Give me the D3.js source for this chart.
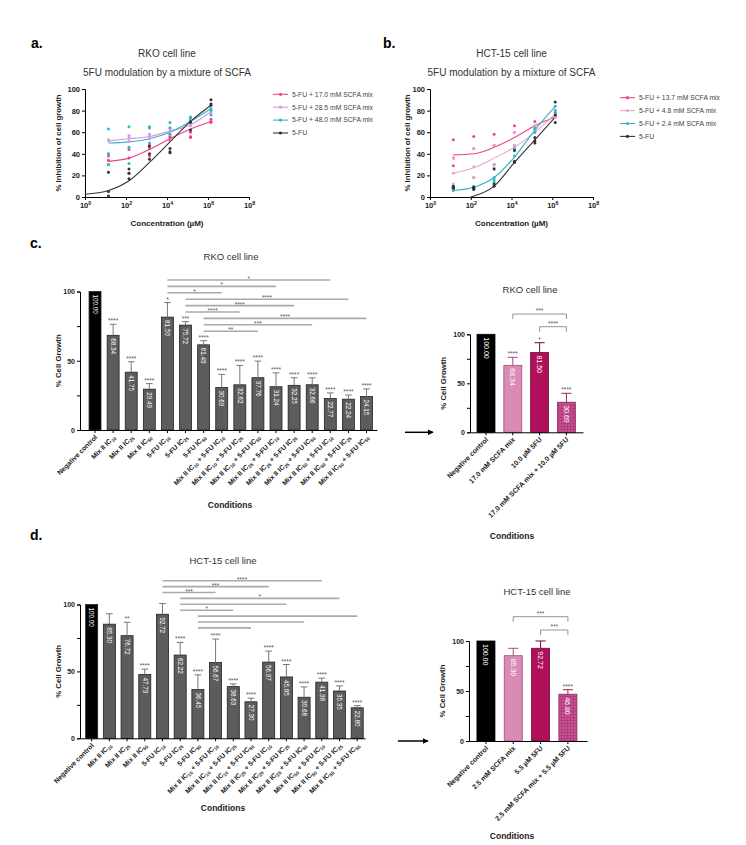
<!DOCTYPE html>
<html>
<head>
<meta charset="utf-8">
<script src="https://cdn.jsdelivr.net/npm/d3@7"></script>
<style>
  body { margin: 0; background: #fff; }
  text { font-family: "Liberation Sans", Arial, sans-serif; }
</style>
</head>
<body>
<svg id="fig" width="746" height="845"></svg>
<script>
// ---------- data: dose response (panels a, b) ----------
var concentrations = [14, 140, 1400, 14000, 140000, 1400000];
var xTicks = [1, 1e2, 1e4, 1e6, 1e8];
var xTickExp = ["0", "2", "4", "6", "8"];
var curveYTicks = [0, 20, 40, 60, 80, 100];

var rkoSeries = ["5-FU + 17.0 mM SCFA mix", "5-FU + 28.5 mM SCFA mix", "5-FU + 48.0 mM SCFA mix", "5-FU"];
var rkoColors = ["#e8458b", "#d39ae6", "#35b4c8", "#333333"];
// replicates per concentration, per series
var rkoPoints = [
  [[38, 34, 30], [44, 36, 22], [48, 45, 38], [56, 52, 55], [60, 56, 55], [72, 70, 69]],
  [[53, 52, 40], [57, 55, 52], [56, 54, 58], [64, 61, 58], [72, 70, 66], [86, 80, 78]],
  [[63, 40, 30], [65, 46, 31], [65, 64, 50], [69, 64, 58], [74, 73, 70], [82, 80, 76]],
  [[23, 5, 1], [26, 22, 17], [47, 40, 35], [45, 42, 41], [69, 62, 70], [90, 86, 85]]
];
var rkoFitConc = [concentrations, concentrations, concentrations, [1].concat(concentrations)];
var rkoFitValues = [
  [33, 36, 44, 54, 63, 70],
  [52, 54, 56, 61, 67, 79],
  [50, 51, 54, 60, 70, 82],
  [2.5, 6, 15, 32, 51, 70, 85]
];

var hctSeries = ["5-FU + 13.7 mM SCFA mix", "5-FU + 4.8 mM SCFA mix", "5-FU + 2.4 mM SCFA mix", "5-FU"];
var hctColors = ["#e8458b", "#eba3d3", "#35b4c8", "#333333"];
var hctPoints = [
  [[53, 36, 29], [56, 45, 18], [58, 48, 30], [66, 60, 48], [70, 66, 62], [78, 76, 74]],
  [[36, 22, 12], [45, 28, 18], [48, 30, 27], [60, 48, 44], [66, 62, 60], [80, 77, 74]],
  [[10, 8, 6], [10, 9, 8], [18, 16, 14], [45, 44, 38], [64, 63, 60], [84, 80, 78]],
  [[10, 9, 8], [9, 8, 7], [26, 12, 10], [43, 33, 32], [55, 52, 50], [88, 76, 69]]
];
var hctFitConc = [concentrations, concentrations, concentrations, [100, 1400, 14000, 140000, 1400000]];
var hctFitValues = [
  [39, 40, 46, 55, 66, 74],
  [22, 27, 36, 46, 60, 77],
  [6, 9, 18, 37, 62, 84],
  [0, 10, 32, 53, 74]
];

// ---------- data: cell growth bars (panels c, d) ----------
var conditions = ["Negative control", "Mix II IC_{10}", "Mix II IC_{25}", "Mix II IC_{50}",
  "5-FU IC_{10}", "5-FU IC_{25}", "5-FU IC_{50}",
  "Mix II IC_{10} + 5-FU IC_{10}", "Mix II IC_{10} + 5-FU IC_{25}", "Mix II IC_{10} + 5-FU IC_{50}",
  "Mix II IC_{25} + 5-FU IC_{10}", "Mix II IC_{25} + 5-FU IC_{25}", "Mix II IC_{25} + 5-FU IC_{50}",
  "Mix II IC_{50} + 5-FU IC_{10}", "Mix II IC_{50} + 5-FU IC_{25}", "Mix II IC_{50} + 5-FU IC_{50}"];
var barYTicks = [0, 25, 50, 75, 100];

var rkoGrowth = [100, 68.34, 41.75, 29.49, 81.50, 75.72, 61.49, 30.69, 32.62, 37.76, 31.24, 32.25, 32.66, 22.77, 22.24, 24.15];
var rkoSD = [0, 8, 7.5, 4, 10.5, 2.5, 3, 9.5, 14, 12, 10, 5.5, 5, 4, 3, 5.5];
var rkoStars = ["", "****", "****", "****", "*", "***", "****", "****", "****", "****", "****", "****", "****", "****", "****", "****"];
var rkoPairs = [[4, 13, "*"], [4, 10, "*"], [4, 7, "*"], [5, 14, "****"], [5, 11, "****"], [5, 8, "****"], [6, 15, "****"], [6, 12, "***"], [6, 9, "**"]];

var hctGrowth = [100, 85.30, 76.72, 47.73, 92.72, 62.22, 36.45, 56.67, 38.63, 27.30, 56.97, 45.85, 30.68, 41.98, 35.35, 22.80];
var hctSD = [0, 7.8, 10, 4, 8, 9.4, 11, 17.5, 2, 2.7, 8.2, 9.3, 7.7, 3, 3.8, 1.6];
var hctStars = ["", "", "**", "****", "", "****", "****", "****", "****", "****", "****", "****", "****", "****", "****", "****"];
var hctPairs = [[4, 13, "****"], [4, 10, "***"], [4, 7, "***"], [5, 14, "*"], [5, 11, ""], [5, 8, "*"], [6, 15, ""], [6, 12, ""], [6, 9, ""]];

var rkoSelConditions = ["Negative control", "17.0 mM SCFA mix", "10.0 µM 5FU", "17.0 mM SCFA mix + 10.0 µM 5FU"];
var rkoSelGrowth = [100, 68.34, 81.50, 30.69];
var rkoSelSD = [0, 8.2, 9.9, 9.1];
var rkoSelStars = ["", "****", "*", "****"];
var rkoSelPairs = [[1, 3, "***"], [2, 3, "****"]];

var hctSelConditions = ["Negative control", "2.5 mM SCFA mix", "5.5 µM 5FU", "2.5 mM SCFA mix + 5.5 µM 5FU"];
var hctSelGrowth = [100, 85.30, 92.72, 46.80];
var hctSelSD = [0, 7.4, 7.3, 4.5];
var hctSelStars = ["", "", "", "****"];
var hctSelPairs = [[1, 3, "***"], [2, 3, "***"]];

var selFills = ["#000000", "#d98ab5", "#b0105a", "url(#hatch)"];
var selStrokes = ["#000000", "#a34d7d", "#6e0a38", "#8e2a63"];

// ---------- drawing ----------
var svg = d3.select("#fig");
svg.append("rect").attr("width", 746).attr("height", 845).attr("fill", "#fff");

var defs = svg.append("defs");
var hatch = defs.append("pattern").attr("id", "hatch")
    .attr("patternUnits", "userSpaceOnUse").attr("width", 3).attr("height", 3);
hatch.append("rect").attr("width", 3).attr("height", 3).attr("fill", "#c84f92");
hatch.append("path").attr("d", "M0,0H3M0,0V3").attr("stroke", "#8e2a63").attr("stroke-width", 0.7);
defs.append("marker").attr("id", "arrowHead")
    .attr("viewBox", "0 0 10 10").attr("refX", 9).attr("refY", 5)
    .attr("markerWidth", 4).attr("markerHeight", 4).attr("orient", "auto")
    .append("path").attr("d", "M0,0L10,5L0,10z").attr("fill", "#000");

function styleAxis(g, size) {
  g.selectAll("path.domain").attr("stroke", "#000").attr("stroke-width", 1);
  g.selectAll(".tick line").attr("stroke", "#000");
  g.selectAll(".tick text").attr("font-size", size).attr("font-weight", "bold").attr("fill", "#222")
      .style("font-family", '"Liberation Sans", Arial, sans-serif');
}

// text with IC_{xx} subscripts
function richText(sel, str) {
  var parts = str.split(/_\{([^}]*)\}/), shifted = false;
  parts.forEach(function (p, i) {
    if (p === "") return;
    var t = sel.append("tspan").text(p);
    if (i % 2) { t.attr("dy", 1.6).attr("font-size", "0.7em"); shifted = true; }
    else if (shifted) { t.attr("dy", -1.6); shifted = false; }
  });
}

function panelLetter(txt, x, y) {
  svg.append("text").attr("x", x).attr("y", y).attr("font-size", 14).attr("font-weight", "bold").text(txt);
}

function curvePanel(p) {
  var x = d3.scaleLog().domain([1, 1e8]).range([p.left, p.right]);
  var y = d3.scaleLinear().domain([0, 100]).range([p.bottom, p.top]);
  var g = svg.append("g");
  var cx = (p.left + p.right) / 2;

  g.selectAll(".title").data(p.title).enter().append("text")
      .attr("x", cx).attr("y", function (d, i) { return p.titleY + i * 19; })
      .attr("text-anchor", "middle").attr("font-size", 10).attr("fill", "#333")
      .text(function (d) { return d; });

  var ya = g.append("g").attr("transform", "translate(" + p.left + ",0)")
      .call(d3.axisLeft(y).tickValues(curveYTicks).tickSize(3).tickPadding(2));
  styleAxis(ya, 7.5);

  var xa = g.append("g").attr("transform", "translate(0," + p.bottom + ")")
      .call(d3.axisBottom(x).tickValues(xTicks).tickSize(3).tickFormat(function () { return ""; }));
  styleAxis(xa, 7.5);
  xa.selectAll(".tick text").each(function (d, i) {
    var t = d3.select(this).text(null);
    t.append("tspan").text("10");
    t.append("tspan").attr("dy", -3).attr("font-size", "0.7em").text(xTickExp[i]);
  });

  var line = d3.line()
      .x(function (d) { return x(d[0]); })
      .y(function (d) { return y(d[1]); })
      .curve(d3.curveMonotoneX);

  p.fitValues.forEach(function (vals, s) {
    g.append("path")
        .datum(vals.map(function (v, i) { return [p.fitConc[s][i], v]; }))
        .attr("d", line).attr("fill", "none")
        .attr("stroke", p.colors[s]).attr("stroke-width", 1.1);
  });

  p.points.forEach(function (cols, s) {
    cols.forEach(function (reps, c) {
      g.append("g").selectAll("circle").data(reps).enter().append("circle")
          .attr("cx", x(concentrations[c]))
          .attr("cy", function (v) { return y(v); })
          .attr("r", 1.5).attr("fill", p.colors[s]);
    });
  });

  var lg = g.append("g").selectAll("g").data(p.series).enter().append("g")
      .attr("transform", function (d, i) { return "translate(" + p.legendX + "," + (p.legendY + i * 12.9) + ")"; });
  lg.append("line").attr("x2", 15).attr("stroke", function (d, i) { return p.colors[i]; }).attr("stroke-width", 1.1);
  lg.append("circle").attr("cx", 7.5).attr("r", 1.6).attr("fill", function (d, i) { return p.colors[i]; });
  lg.append("text").attr("x", 19).attr("dy", "0.35em").attr("font-size", 6.8).attr("fill", "#444")
      .text(function (d) { return d; });

  g.append("text")
      .attr("transform", "translate(" + p.ylabelX + "," + (p.top + p.bottom) / 2 + ")rotate(-90)")
      .attr("text-anchor", "middle").attr("dy", "0.35em")
      .attr("font-size", 7.8).attr("font-weight", "bold").attr("fill", "#222")
      .text("% Inhibition of cell growth");

  g.append("text").attr("x", cx).attr("y", p.bottom + 29)
      .attr("text-anchor", "middle").attr("font-size", 8).attr("font-weight", "bold").attr("fill", "#222")
      .text("Concentration (µM)");
}

function barPanel(p) {
  var n = p.values.length;
  var x = d3.scaleBand().domain(d3.range(n)).range(p.range)
      .paddingInner(p.padIn).paddingOuter(p.padOut).align(p.align);
  var y = d3.scaleLinear().domain([0, 100]).range([p.bottom, p.top]);
  var bw = x.bandwidth();
  var mid = function (i) { return x(i) + bw / 2; };
  var g = svg.append("g");

  g.append("text").attr("x", p.titleX).attr("y", p.titleY)
      .attr("text-anchor", "middle").attr("dy", "0.35em")
      .attr("font-size", 9.5).attr("fill", "#333").text(p.title);

  // comparison lines
  p.pairs.forEach(function (pr, k) {
    var ly = p.pairTop + k * p.pairStep;
    if (p.brackets) {
      g.append("path")
          .attr("d", "M" + mid(pr[0]) + "," + (ly + 5) + "V" + ly + "H" + mid(pr[1]) + "V" + (ly + 5))
          .attr("fill", "none").attr("stroke", "#888").attr("stroke-width", 0.9);
    } else {
      g.append("line").attr("x1", mid(pr[0])).attr("x2", mid(pr[1]))
          .attr("y1", ly).attr("y2", ly).attr("stroke", "#aaa").attr("stroke-width", 1.6);
    }
    g.append("text").attr("x", (mid(pr[0]) + mid(pr[1])) / 2).attr("y", ly + (p.brackets ? -1 : 1))
        .attr("text-anchor", "middle").attr("font-size", 6.5).attr("fill", "#555").text(pr[2]);
  });

  // bars
  g.append("g").selectAll("rect").data(p.values).enter().append("rect")
      .attr("x", function (d, i) { return x(i); })
      .attr("y", function (d) { return y(d); })
      .attr("width", bw)
      .attr("height", function (d) { return y(0) - y(d); })
      .attr("fill", function (d, i) { return p.fills[i]; })
      .attr("stroke", function (d, i) { return p.strokes[i]; })
      .attr("stroke-width", 0.8);

  // error bars (upper)
  var eb = g.append("g").selectAll("g").data(p.values).enter().append("g")
      .filter(function (d, i) { return p.sd[i] > 0; });
  eb.append("line")
      .attr("x1", function (d, i) { return mid(p.values.indexOf(d)); })
      .attr("x2", function (d) { return mid(p.values.indexOf(d)); })
      .attr("y1", function (d) { return y(d); })
      .attr("y2", function (d) { return y(d + p.sd[p.values.indexOf(d)]); })
      .attr("stroke", function (d) { return p.errColor || p.strokes[p.values.indexOf(d)]; })
      .attr("stroke-width", 1);
  eb.append("line")
      .attr("x1", function (d) { return mid(p.values.indexOf(d)) - bw * 0.28; })
      .attr("x2", function (d) { return mid(p.values.indexOf(d)) + bw * 0.28; })
      .attr("y1", function (d) { return y(d + p.sd[p.values.indexOf(d)]); })
      .attr("y2", function (d) { return y(d + p.sd[p.values.indexOf(d)]); })
      .attr("stroke", function (d) { return p.errColor || p.strokes[p.values.indexOf(d)]; })
      .attr("stroke-width", 1);

  // significance vs control
  g.append("g").selectAll("text").data(p.stars).enter().append("text")
      .attr("x", function (d, i) { return mid(i); })
      .attr("y", function (d, i) { return y(p.values[i] + p.sd[i]) - 1; })
      .attr("text-anchor", "middle").attr("font-size", 6.5).attr("fill", "#555")
      .text(function (d) { return d; });

  // value labels inside bars
  g.append("g").selectAll("text").data(p.values).enter().append("text")
      .attr("transform", function (d, i) { return "translate(" + mid(i) + "," + (y(d) + 3) + ")rotate(90)"; })
      .attr("dy", "0.35em").attr("font-size", p.valueSize).attr("fill", "#fff")
      .text(function (d) { return d3.format(".2f")(d); });

  var ya = g.append("g").attr("transform", "translate(" + p.range[0] + ",0)")
      .call(d3.axisLeft(y).tickValues(barYTicks).tickSize(3).tickPadding(2)
        .tickFormat(function (d) { return d % 50 ? "" : d; }));
  styleAxis(ya, 7);

  var xa = g.append("g").attr("transform", "translate(0," + p.bottom + ")")
      .call(d3.axisBottom(x).tickSize(3).tickSizeOuter(0).tickFormat(function () { return ""; }));
  styleAxis(xa, p.labelSize);
  xa.selectAll(".tick text").remove();
  xa.selectAll(".tick").append("text")
      .attr("transform", "translate(1,6)rotate(-45)")
      .attr("text-anchor", "end").attr("dy", "0.35em")
      .attr("font-size", p.labelSize).attr("font-weight", "bold").attr("fill", "#222")
      .each(function (d) { richText(d3.select(this), p.conds[d]); });

  g.append("text")
      .attr("transform", "translate(" + p.ylabelX + "," + (p.top + p.bottom) / 2 + ")rotate(-90)")
      .attr("text-anchor", "middle").attr("dy", "0.35em")
      .attr("font-size", 7.8).attr("font-weight", "bold").attr("fill", "#222")
      .text("% Cell Growth");

  g.append("text").attr("x", p.condX).attr("y", p.condY)
      .attr("text-anchor", "middle").attr("dy", "0.35em")
      .attr("font-size", 8.5).attr("font-weight", "bold").attr("fill", "#222")
      .text("Conditions");

  if (p.arrow) {
    g.append("line").attr("x1", p.arrow[0]).attr("x2", p.arrow[1])
        .attr("y1", y(0)).attr("y2", y(0))
        .attr("stroke", "#000").attr("stroke-width", 1.5)
        .attr("marker-end", "url(#arrowHead)");
  }
}

panelLetter("a.", 31, 48);
panelLetter("b.", 383, 48);
panelLetter("c.", 30, 248);
panelLetter("d.", 30, 540);

curvePanel({
  left: 85, right: 249, top: 89, bottom: 197, titleY: 56.5, title: ["RKO cell line", "5FU modulation by a mixture of SCFA"],
  series: rkoSeries, colors: rkoColors, points: rkoPoints, fitConc: rkoFitConc, fitValues: rkoFitValues,
  legendX: 273, legendY: 94.3, ylabelX: 58
});

curvePanel({
  left: 430, right: 593, top: 89, bottom: 197, titleY: 56.5, title: ["HCT-15 cell line", "5FU modulation by a mixture of SCFA"],
  series: hctSeries, colors: hctColors, points: hctPoints, fitConc: hctFitConc, fitValues: hctFitValues,
  legendX: 620, legendY: 97.7, ylabelX: 407
});

var greyFills = rkoGrowth.map(function (d, i) { return i ? "#5c5c5c" : "#000"; });
var greyStrokes = rkoGrowth.map(function () { return "#222"; });

barPanel({
  conds: conditions, values: rkoGrowth, sd: rkoSD, stars: rkoStars, pairs: rkoPairs,
  range: [80, 377], padIn: 0.34, padOut: 0.375, align: 0.667, bottom: 430, top: 291.5,
  title: "RKO cell line", titleX: 231, titleY: 257, pairTop: 280, pairStep: 6.4, brackets: false,
  fills: greyFills, strokes: greyStrokes, errColor: "#777",
  ylabelX: 58, condX: 230, condY: 505, labelSize: 6.8, valueSize: 6.3
});

barPanel({
  conds: conditions, values: hctGrowth, sd: hctSD, stars: hctStars, pairs: hctPairs,
  range: [80, 365], padIn: 0.32, padOut: 0.21, align: 0.76, bottom: 738.3, top: 604.5,
  title: "HCT-15 cell line", titleX: 223, titleY: 561, pairTop: 580.7, pairStep: 5.9, brackets: false,
  fills: greyFills, strokes: greyStrokes, errColor: "#777",
  ylabelX: 58, condX: 223, condY: 808, labelSize: 6.8, valueSize: 6.3
});

barPanel({
  conds: rkoSelConditions, values: rkoSelGrowth, sd: rkoSelSD, stars: rkoSelStars, pairs: rkoSelPairs,
  range: [470, 583], padIn: 0.33, padOut: 0.273, align: 0.48, bottom: 432.3, top: 334.3,
  title: "RKO cell line", titleX: 530, titleY: 290, pairTop: 314, pairStep: 12.7, brackets: true,
  fills: selFills, strokes: selStrokes,
  ylabelX: 443, condX: 512, condY: 536, labelSize: 7, valueSize: 7, arrow: [405, 433]
});

barPanel({
  conds: hctSelConditions, values: hctSelGrowth, sd: hctSelSD, stars: hctSelStars, pairs: hctSelPairs,
  range: [469, 587], padIn: 0.34, padOut: 0.33, align: 0.44, bottom: 741, top: 641,
  title: "HCT-15 cell line", titleX: 537, titleY: 592, pairTop: 616.7, pairStep: 13.3, brackets: true,
  fills: selFills, strokes: selStrokes,
  ylabelX: 442, condX: 512, condY: 836, labelSize: 7, valueSize: 7, arrow: [398, 428]
});
</script>
</body>
</html>
